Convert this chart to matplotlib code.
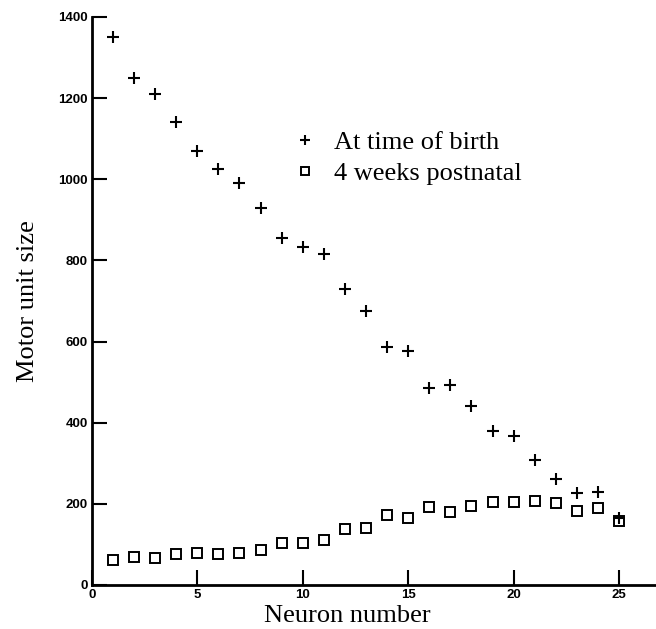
import numpy as np
import matplotlib
matplotlib.use("Agg")
import matplotlib.pyplot as plt

# neuron index and motor unit sizes
neuron = np.arange(1, 26)
at_birth = [1350, 1250, 1210, 1140, 1070, 1025, 990, 930, 855, 833,
            815, 730, 675, 587, 577, 485, 493, 442, 380, 366,
            307, 261, 226, 229, 165]
postnatal = [62, 70, 66, 76, 78, 76, 80, 86, 103, 104,
             112, 137, 141, 172, 164, 193, 179, 195, 204, 205,
             206, 201, 183, 190, 158]

y_ticks = [0, 200, 400, 600, 800, 1000, 1200, 1400]
x_ticks = [0, 5, 10, 15, 20, 25]

fig = plt.figure(figsize=(6.56, 6.29), dpi=100)
ax = fig.add_axes([0.140, 0.070, 0.860, 0.903])

ax.plot(neuron, postnatal, linestyle="none", marker="s", markersize=7.5,
        markerfacecolor="white", markeredgecolor="black", markeredgewidth=1.4,
        label="4 weeks postnatal")
ax.plot(neuron, at_birth, linestyle="none", marker="+", markersize=9,
        color="black", markeredgewidth=1.5, label="At time of birth")

ax.set_xlim(0, 26.75)
ax.set_ylim(0, 1400)
ax.set_xticks(x_ticks)
ax.set_yticks(y_ticks)

for side in ["top", "right"]:
    ax.spines[side].set_visible(False)
for side in ["left", "bottom"]:
    ax.spines[side].set_linewidth(2)

ax.tick_params(direction="in", length=11, width=1.5, pad=3)
for lab in ax.get_xticklabels() + ax.get_yticklabels():
    lab.set_family("Liberation Sans")
    lab.set_fontweight("bold")
    lab.set_fontsize(9.5)

ax.set_xlabel("Neuron number", family="Liberation Serif", fontsize=19, labelpad=2.5)
ax.xaxis.label.set_x(0.452)
ax.set_ylabel("Motor unit size", family="Liberation Serif", fontsize=19, labelpad=14)

handles, labels = ax.get_legend_handles_labels()
ax.legend(handles[::-1], labels[::-1], loc="upper left",
          bbox_to_anchor=(0.313, 0.842), frameon=False, markerscale=0.75,
          prop={"family": "Liberation Serif", "size": 19},
          handletextpad=0.6, labelspacing=0.3, handlelength=1.0)

plt.savefig("out.png", dpi=100)
